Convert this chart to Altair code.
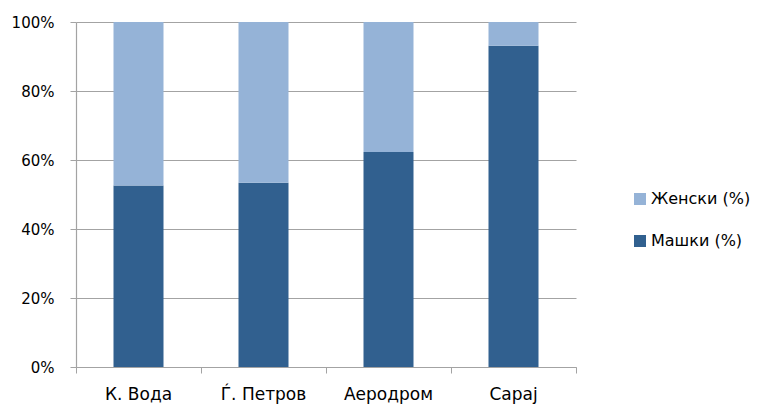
import altair as alt
import pandas as pd

districts = ["К. Вода", "Ѓ. Петров", "Аеродром", "Сарај"]
male = [52.6, 53.4, 62.3, 93.1]
female = [47.4, 46.6, 37.7, 6.9]
series = ["Женски (%)", "Машки (%)"]
colors = ["#95B3D7", "#31608F"]
y_ticks = [0, 0.2, 0.4, 0.6, 0.8, 1.0]

rows = []
for i, d in enumerate(districts):
    rows.append({"district": d, "series": series[1], "value": male[i], "order": 0})
    rows.append({"district": d, "series": series[0], "value": female[i], "order": 1})
df = pd.DataFrame(rows)

font = "DejaVu Sans"
grey = "#A3A3A3"
ink = "#000000"

bars = alt.Chart(df).mark_bar(width=alt.RelativeBandSize(0.4)).encode(
    x=alt.X(
        "district:N", sort=districts, title=None,
        scale=alt.Scale(paddingInner=0, paddingOuter=0),
        axis=alt.Axis(
            bandPosition=1, tickExtra=True, labelAngle=0, grid=False,
            domainColor=grey, tickColor=grey, tickSize=6, domainWidth=1.2,
            labelFont=font, labelFontSize=17, labelColor=ink,
            labelBaseline="alphabetic", labelPadding=26,
        ),
    ),
    y=alt.Y(
        "value:Q", stack="normalize", title=None,
        scale=alt.Scale(domain=[0, 1], nice=False),
        axis=alt.Axis(
            format="%", values=y_ticks, grid=True, gridColor=grey,
            domainColor=grey, tickColor=grey, tickSize=6, domainWidth=1.2,
            labelFont=font, labelFontSize=15, labelColor=ink,
            labelPadding=16,
        ),
    ),
    color=alt.Color(
        "series:N",
        scale=alt.Scale(domain=series, range=colors),
        legend=alt.Legend(
            title=None, orient="none", legendX=556, legendY=169,
            symbolType="square", symbolSize=144, symbolStrokeWidth=0,
            labelFont=font, labelFontSize=16, labelColor=ink,
            labelOffset=3, rowPadding=26, padding=0,
        ),
    ),
    order=alt.Order("order:Q"),
)

chart = bars.properties(
    width=500, height=345,
    autosize=alt.AutoSizeParams(type="none"),
    padding={"left": 68, "top": 14, "right": 176, "bottom": 37},
).configure_view(stroke=None)

chart.save("out.html", embed_options={"renderer": "svg", "actions": False})
